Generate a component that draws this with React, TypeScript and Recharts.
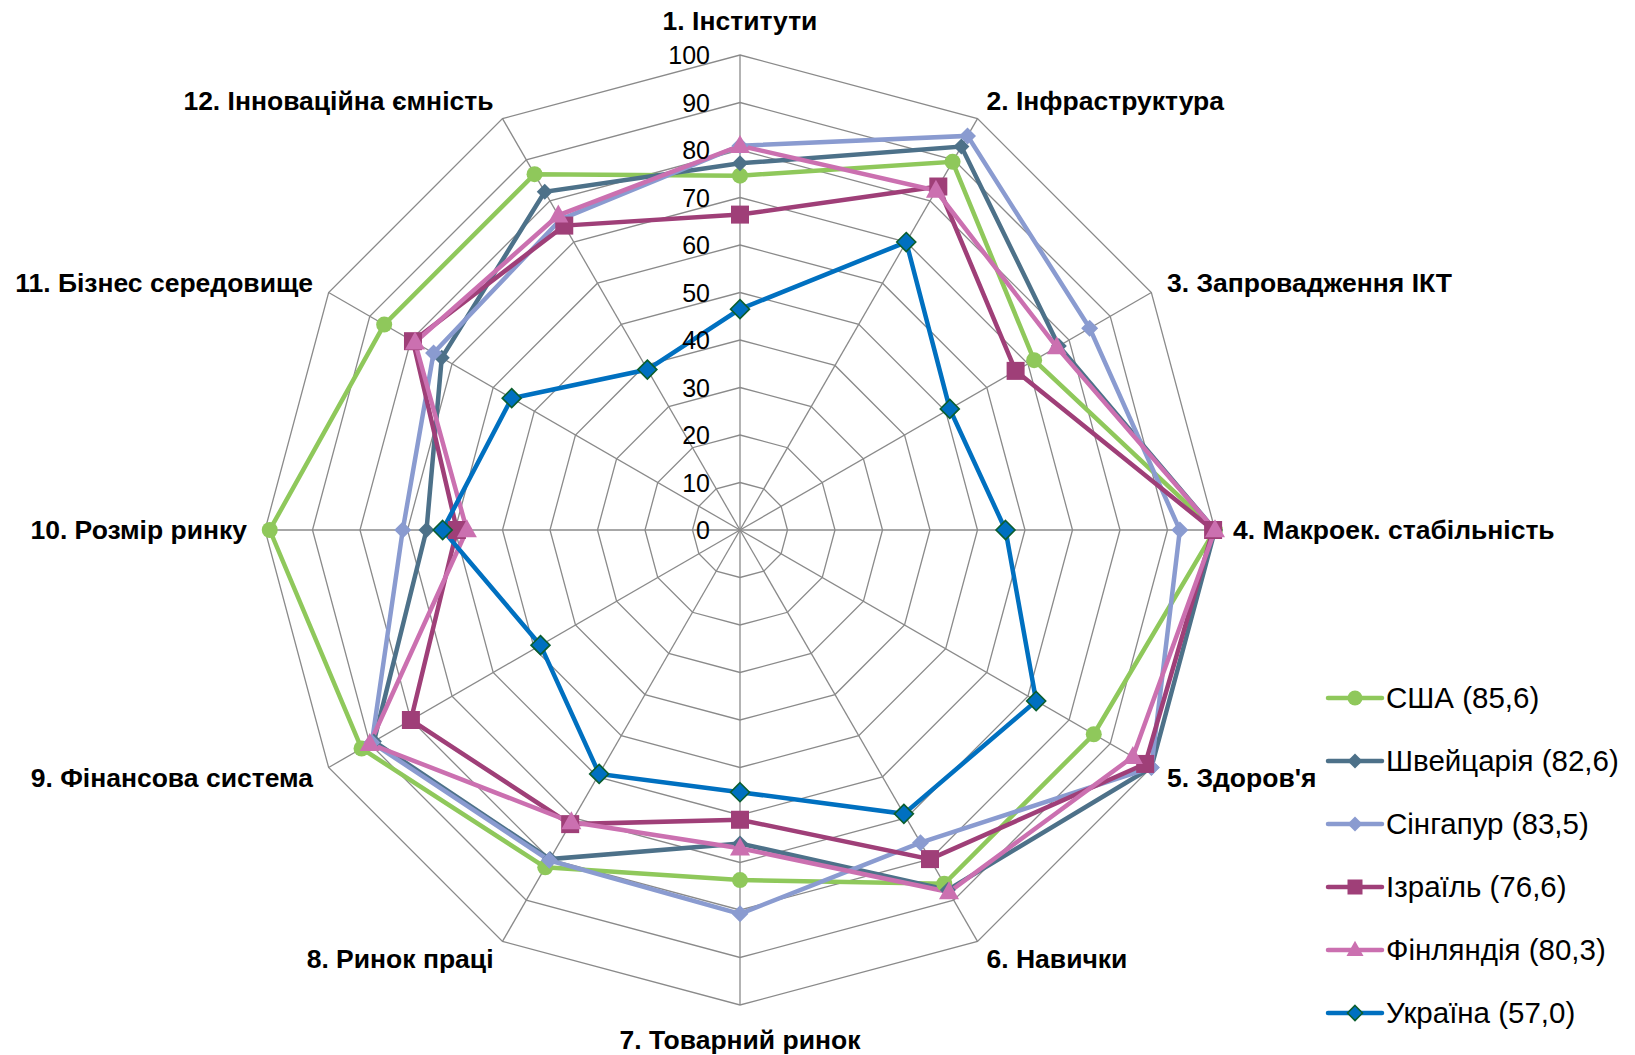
import React from 'react';
import { RadarChart, Radar, PolarGrid, PolarAngleAxis, PolarRadiusAxis, Legend } from 'recharts';

const categories = [
  '1. Інститути',
  '2. Інфраструктура',
  '3. Запровадження ІКТ',
  '4. Макроек. стабільність',
  "5. Здоров'я",
  '6. Навички',
  '7. Товарний ринок',
  '8. Ринок праці',
  '9. Фінансова система',
  '10. Розмір ринку',
  '11. Бізнес середовище',
  '12. Інноваційна ємність',
];

const usa = [74.6, 89.5, 71.5, 100, 86, 86, 73.7, 82, 92, 99, 86.5, 86.5];
const switzerland = [77.2, 93.2, 77.5, 100, 100, 87.5, 66, 80, 89, 66, 72.5, 82.2];
const singapore = [80.9, 95.8, 85, 92.6, 100, 76, 80.8, 80.3, 89.5, 71, 74.5, 75.5];
const israel = [66.4, 83.5, 67, 99.6, 98.5, 80, 61, 71.5, 80, 59.6, 79.5, 74];
const finland = [80.9, 82.5, 77, 100, 95.5, 88, 67, 71, 90, 57.5, 79, 76.5];
const ukraine = [46.5, 70, 51, 55.9, 72, 69, 55.2, 59.3, 48.5, 62.6, 55.5, 39];

const seriesNames = [
  'США (85,6)',
  'Швейцарія (82,6)',
  'Сінгапур (83,5)',
  'Ізраїль (76,6)',
  'Фінляндія (80,3)',
  'Україна (57,0)',
];

const radiusTicks = [0, 10, 20, 30, 40, 50, 60, 70, 80, 90, 100];

const data = categories.map((name, i) => ({
  name,
  usa: usa[i],
  switzerland: switzerland[i],
  singapore: singapore[i],
  israel: israel[i],
  finland: finland[i],
  ukraine: ukraine[i],
}));

const FONT = '"Liberation Sans", Arial, Helvetica, sans-serif';
const CX = 740;
const CY = 530;
const R = 475;

type Kind = 'circle' | 'diamond' | 'square' | 'triangle';

interface SeriesDef {
  key: string;
  name: string;
  color: string;
  kind: Kind;
  size: number;
  markerStroke?: string;
}

const series: SeriesDef[] = [
  { key: 'usa', name: seriesNames[0], color: '#8FC85B', kind: 'circle', size: 8 },
  { key: 'switzerland', name: seriesNames[1], color: '#4D7189', kind: 'diamond', size: 8 },
  { key: 'singapore', name: seriesNames[2], color: '#8A9BD0', kind: 'diamond', size: 8.5 },
  { key: 'israel', name: seriesNames[3], color: '#9F3F78', kind: 'square', size: 9 },
  { key: 'finland', name: seriesNames[4], color: '#CB70B0', kind: 'triangle', size: 10 },
  { key: 'ukraine', name: seriesNames[5], color: '#0070C0', kind: 'diamond', size: 9.5, markerStroke: '#0B5E2E' },
];

function Marker({ kind, x, y, size, fill, stroke }: { kind: Kind; x: number; y: number; size: number; fill: string; stroke?: string }) {
  const sw = stroke ? 1.6 : 0;
  if (kind === 'circle') {
    return <circle cx={x} cy={y} r={size} fill={fill} stroke={stroke || 'none'} strokeWidth={sw} />;
  }
  if (kind === 'diamond') {
    const p = `${x},${y - size} ${x + size},${y} ${x},${y + size} ${x - size},${y}`;
    return <polygon points={p} fill={fill} stroke={stroke || 'none'} strokeWidth={sw} />;
  }
  if (kind === 'square') {
    return <rect x={x - size} y={y - size} width={size * 2} height={size * 2} fill={fill} stroke={stroke || 'none'} strokeWidth={sw} />;
  }
  const h = size * 1.8;
  const p = `${x},${y - h * 0.6} ${x + size},${y + h * 0.4} ${x - size},${y + h * 0.4}`;
  return <polygon points={p} fill={fill} stroke={stroke || 'none'} strokeWidth={sw} />;
}

const AngleTick = (props: any) => {
  const { x, y, payload } = props;
  const dx0 = x - CX;
  const dy0 = y - CY;
  const len = Math.hypot(dx0, dy0) || 1;
  const s = dx0 / len;
  const c = -dy0 / len;
  let anchor: 'start' | 'middle' | 'end' = 'middle';
  let tx = x;
  let ty = y;
  if (Math.abs(s) < 0.02) {
    ty = y + (c > 0 ? -26 : 27);
  } else {
    anchor = s > 0 ? 'start' : 'end';
    tx = x + Math.sign(s) * 10 * Math.abs(s);
    ty = y - c * 12;
  }
  return (
    <text
      x={tx}
      y={ty}
      textAnchor={anchor}
      dominantBaseline="central"
      fontFamily={FONT}
      fontWeight="bold"
      fontSize={26.5}
      fill="#000"
    >
      {payload.value}
    </text>
  );
};

const RadiusTick = (props: any) => {
  const { x, y, payload } = props;
  return (
    <text x={x - 30} y={y} textAnchor="end" dominantBaseline="central" fontFamily={FONT} fontSize={25} fill="#000">
      {payload.value}
    </text>
  );
};

const LegendContent = () => (
  <div style={{ fontFamily: FONT, fontSize: 29.5, color: '#000' }}>
    {series.map((s) => (
      <div key={s.key} style={{ height: 63, display: 'flex', alignItems: 'center' }}>
        <svg width={60} height={24} style={{ display: 'block' }}>
          <line x1={3} y1={12} x2={57} y2={12} stroke={s.color} strokeWidth={4.5} strokeLinecap="round" />
          <Marker kind={s.kind} x={30} y={12} size={s.kind === 'triangle' ? 8.5 : 7.5} fill={s.color} stroke={s.markerStroke} />
        </svg>
        <span style={{ marginLeft: 1, whiteSpace: 'nowrap' }}>{s.name}</span>
      </div>
    ))}
  </div>
);

export default function App() {
  return (
    <div style={{ width: 1635, height: 1055, marginTop: -8, marginLeft: -8 }}>
      <RadarChart
        width={1635}
        height={1055}
        data={data}
        cx={CX}
        cy={CY}
        outerRadius={R}
        startAngle={90}
        endAngle={-270}
        margin={{ top: 0, right: 0, bottom: 0, left: 0 }}
      >
        <PolarGrid gridType="polygon" stroke="#8A8A8A" strokeWidth={1.3} />
        <PolarAngleAxis dataKey="name" tick={AngleTick} tickLine={false} axisLine={false} />
        <PolarRadiusAxis
          angle={90}
          domain={[0, 100]}
          ticks={radiusTicks as any}
          tickCount={11}
          tick={RadiusTick}
          axisLine={false}
          tickLine={false}
        />
        {series.map((s) => (
          <Radar
            key={s.key}
            dataKey={s.key}
            name={s.name}
            stroke={s.color}
            strokeWidth={4.5}
            fill="none"
            fillOpacity={0}
            isAnimationActive={false}
            dot={(p: any) => (
              <Marker
                key={`${s.key}-${p.index}`}
                kind={s.kind}
                x={p.cx}
                y={p.cy}
                size={s.size}
                fill={s.color}
                stroke={s.markerStroke}
              />
            )}
          />
        ))}
        <Legend
          content={LegendContent}
          wrapperStyle={{ position: 'absolute', left: 1325, top: 666, width: 310, height: 380 }}
        />
      </RadarChart>
    </div>
  );
}
